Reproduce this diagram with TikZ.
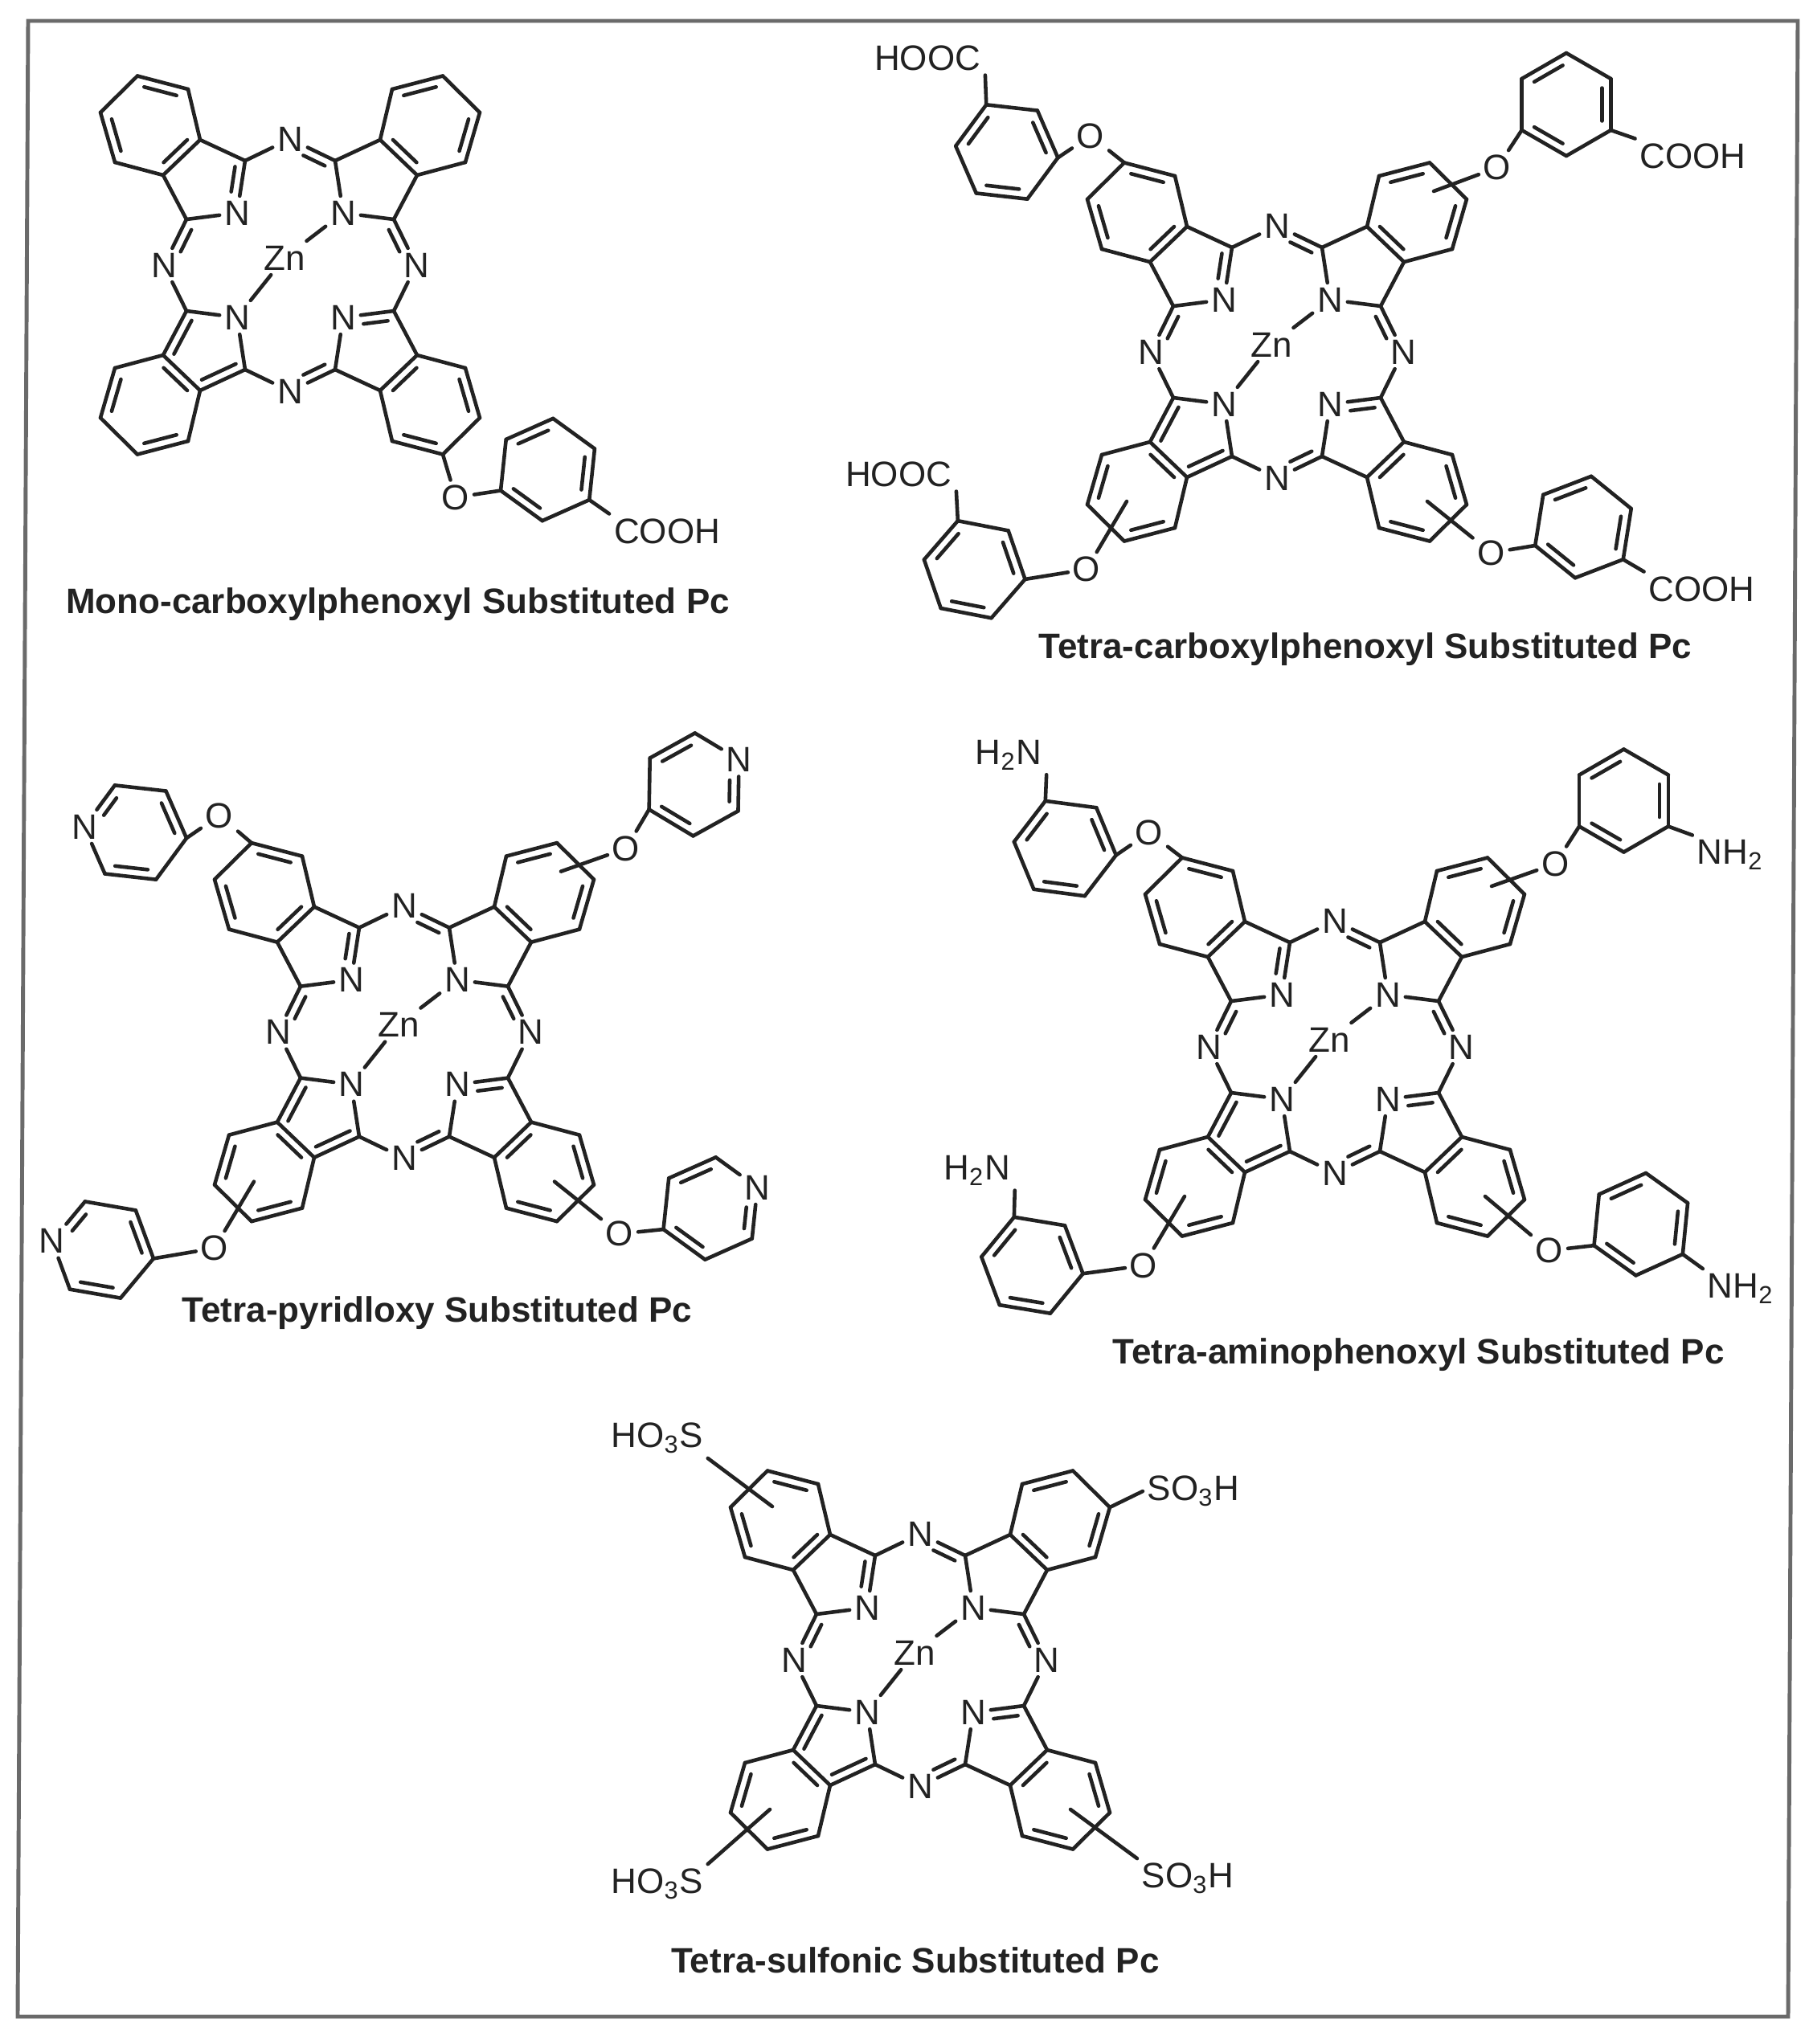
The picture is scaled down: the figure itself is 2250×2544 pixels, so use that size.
\documentclass[tikz,border=0pt]{standalone}
\usepackage{fontspec}
\setmainfont{Liberation Sans}
\usepackage{xcolor}
\usepackage{tikz}
\usetikzlibrary{calc}
\definecolor{inkdark}{HTML}{222222}
\definecolor{framegray}{HTML}{6A6A6A}
\tikzset{
    bond/.style={line width=1.3pt, draw=inkdark, line cap=round},
    atom/.style={font=\fontsize{12.5}{14}\selectfont, text=inkdark, inner sep=1.5pt},
    caption/.style={font=\fontsize{12.5}{14}\selectfont\bfseries, text=inkdark, inner sep=0pt},
    outerframe/.style={line width=1.4pt, draw=framegray, line join=miter}
}
\newcommand{\arom}[5]{\draw[bond] ($(#1)!#4!(#2)!.2!(#3)$) -- ($(#1)!#5!(#2)!.2!(#3)$);}
\newcommand{\dbond}[5]{
    \draw[bond] (#1) -- (#2);
    \draw[bond] ($(#1)!#4!(#2)!3.2pt!#3:(#2)$) -- ($(#1)!#5!(#2)!3.2pt!#3:(#2)$);
}
\newcommand{\benz}[4][0]{
    \coordinate (#2) at (#3);
    \foreach \i in {1,...,6}{
        \pgfmathsetmacro{\ang}{#4+60*\i-60}
        \ifnum\i=#1
            \node[atom] (#2\i) at ($(#2)+(\ang:64)$) {N};
        \else
            \coordinate (#2\i) at ($(#2)+(\ang:64)$);
        \fi
    }
    \foreach \i/\j in {1/2,2/3,3/4,4/5,5/6,6/1} \draw[bond] (#2\i) -- (#2\j);
    \foreach \i/\j in {1/2,3/4,5/6}{
        \def\fa{.1}\def\fb{.9}
        \ifnum\i=#1 \def\fa{.38}\fi
        \ifnum\j=#1 \def\fb{.62}\fi
        \arom{#2\i}{#2\j}{#2}{\fa}{\fb}
    }
}
\newcommand{\pccore}[3]{
    \begin{scope}[shift={(#2,#3)}, name prefix=#1]
        \node[atom] (zn) at (-7,-9) {Zn};
        \node[atom] (nt) at (0,-157) {N};
        \node[atom] (nb) at (0,157) {N};
        \node[atom] (nl) at (-157,0) {N};
        \node[atom] (nr) at (157,0) {N};
        \foreach \qd/\xs/\ys in {tl/-1/-1,tr/1/-1,bl/-1/1,br/1/1}{
            \node[atom] (\qd N) at (\xs*66,\ys*65) {N};
            \coordinate (\qd P) at (\xs*56,\ys*130);
            \coordinate (\qd R) at (\xs*129,\ys*57);
            \coordinate (\qd A) at (\xs*112,\ys*156);
            \coordinate (\qd B) at (\xs*127,\ys*219);
            \coordinate (\qd C) at (\xs*190,\ys*235.5);
            \coordinate (\qd D) at (\xs*236,\ys*190);
            \coordinate (\qd E) at (\xs*218,\ys*128);
            \coordinate (\qd F) at (\xs*158,\ys*112);
            \coordinate (\qd M) at (\xs*173.5,\ys*173.5);
            \foreach \pa/\pb in {A/B,B/C,C/D,D/E,E/F,F/A} \draw[bond] (\qd\pa) -- (\qd\pb);
            \foreach \pa/\pb in {B/C,D/E,F/A}{\arom{\qd\pa}{\qd\pb}{\qd M}{.1}{.9}}
        }
        \coordinate (tlX) at (-184,-191);
        \coordinate (trX) at (195,-200);
        \coordinate (blX) at (-187,186);
        \coordinate (brX) at (187,186);
        \foreach \pa/\pb in {tlA/tlP,tlF/tlR,tlN/tlR,tlP/nt,trA/trP,trF/trR,trP/trN,trN/trR,nr/brR,brA/brP,brF/brR,brN/brP,nb/blP,blN/blP,blN/blR,blR/nl,trN/zn,blN/zn}
            \draw[bond] (\pa) -- (\pb);
        \dbond{tlP}{tlN}{-90}{.14}{.62}
        \dbond{tlR}{nl}{90}{.14}{.62}
        \dbond{nt}{trP}{-90}{.38}{.86}
        \dbond{trR}{nr}{-90}{.14}{.62}
        \dbond{brR}{brN}{90}{.14}{.62}
        \dbond{brP}{nb}{-90}{.14}{.62}
        \dbond{blP}{blA}{-90}{.12}{.88}
        \dbond{blR}{blF}{90}{.12}{.88}
    \end{scope}
}
\begin{document}
\begin{tikzpicture}[x=0.01cm, y=-0.01cm]
            \useasboundingbox (0,0) rectangle (2250,2544);
            \draw[outerframe] (35,26) -- (2237,26) -- (2225,2510) -- (22,2510) -- cycle;

            \pccore{mono}{361}{330}
            \node[atom] (monoO) at (567,619) {O};
            \benz{monoPh}{681.5,584.5}{216}
            \node[atom] (monoAcid) at (830,661) {COOH};
            \draw[bond] (monobrC) -- (monoO);
            \draw[bond] (monoO) -- (monoPh6);
            \draw[bond] (monoPh4) -- (monoAcid.north west);
            \node[caption] (monoCap) at (495,752) {Mono-carboxylphenoxyl Substituted Pc};

            \pccore{tcp}{1589}{438}
            \node[atom] (tcpOa) at (1357,169) {O};
            \node[atom] (tcpOb) at (1863,208.6) {O};
            \node[atom] (tcpOc) at (1352,708.6) {O};
            \node[atom] (tcpOd) at (1855.6,688) {O};
            \benz{tcpTL}{1252.8,189}{306.5}
            \benz{tcpTR}{1949,130}{210}
            \benz{tcpBL}{1212.7,708.7}{311}
            \benz{tcpBR}{1970,656}{219}
            \node[atom] (tcpAcida) at (1154,72) {HOOC};
            \node[atom] (tcpAcidb) at (2106.5,194) {COOH};
            \node[atom] (tcpAcidc) at (1118,590) {HOOC};
            \node[atom] (tcpAcidd) at (2117.5,733) {COOH};
            \draw[bond] (tcptlC) -- (tcpOa);
            \draw[bond] (tcpOa) -- (tcpTL2);
            \draw[bond] (tcpTL6) -- (tcpAcida.south east);
            \draw[bond] (tcptrX) -- (tcpOb);
            \draw[bond] (tcpOb) -- (tcpTR6);
            \draw[bond] (tcpTR4) -- (tcpAcidb.north west);
            \draw[bond] (tcpblX) -- (tcpOc);
            \draw[bond] (tcpOc) -- (tcpBL2);
            \draw[bond] (tcpBL6) -- (tcpAcidc.south east);
            \draw[bond] (tcpbrX) -- (tcpOd);
            \draw[bond] (tcpOd) -- (tcpBR6);
            \draw[bond] (tcpBR4) -- (tcpAcidd.north west);
            \node[caption] (tcpCap) at (1699,808) {Tetra-carboxylphenoxyl Substituted Pc};

            \pccore{pyr}{503}{1284.6}
            \node[atom] (pyrOa) at (273,1015) {O};
            \node[atom] (pyrOb) at (779,1056) {O};
            \node[atom] (pyrOc) at (266.8,1553.5) {O};
            \node[atom] (pyrOd) at (771,1535.6) {O};
            \benz[5]{pyrTL}{168.5,1036}{306.4}
            \benz[3]{pyrTR}{863.6,976.4}{211}
            \benz[5]{pyrBL}{127.9,1555.5}{309.8}
            \benz[3]{pyrBR}{884,1504}{216}
            \draw[bond] (pyrtlC) -- (pyrOa);
            \draw[bond] (pyrOa) -- (pyrTL2);
            \draw[bond] (pyrtrX) -- (pyrOb);
            \draw[bond] (pyrOb) -- (pyrTR6);
            \draw[bond] (pyrblX) -- (pyrOc);
            \draw[bond] (pyrOc) -- (pyrBL2);
            \draw[bond] (pyrbrX) -- (pyrOd);
            \draw[bond] (pyrOd) -- (pyrBR6);
            \node[caption] (pyrCap) at (544,1634) {Tetra-pyridloxy Substituted Pc};

            \pccore{amn}{1661}{1303}
            \node[atom] (amnOa) at (1430,1036) {O};
            \node[atom] (amnOb) at (1935.3,1075) {O};
            \node[atom] (amnOc) at (1423,1575) {O};
            \node[atom] (amnOd) at (1928,1556.4) {O};
            \benz{amnTL}{1325.3,1056}{307.5}
            \benz{amnTR}{2020.5,996.5}{210}
            \benz{amnBL}{1284.4,1574.7}{309.4}
            \benz{amnBR}{2041.8,1523.7}{215.6}
            \node[atom] (amnNHa) at (1255,939.6) {H\textsubscript{2}N};
            \node[atom] (amnNHb) at (2153,1064) {NH\textsubscript{2}};
            \node[atom] (amnNHc) at (1215.6,1457) {H\textsubscript{2}N};
            \node[atom] (amnNHd) at (2166,1603.6) {NH\textsubscript{2}};
            \draw[bond] (amntlC) -- (amnOa);
            \draw[bond] (amnOa) -- (amnTL2);
            \draw[bond] (amnTL6) -- (amnNHa.south east);
            \draw[bond] (amntrX) -- (amnOb);
            \draw[bond] (amnOb) -- (amnTR6);
            \draw[bond] (amnTR4) -- (amnNHb.north west);
            \draw[bond] (amnblX) -- (amnOc);
            \draw[bond] (amnOc) -- (amnBL2);
            \draw[bond] (amnBL6) -- (amnNHc.south east);
            \draw[bond] (amnbrX) -- (amnOd);
            \draw[bond] (amnOd) -- (amnBR6);
            \draw[bond] (amnBR4) -- (amnNHd.north west);
            \node[caption] (amnCap) at (1765,1686) {Tetra-aminophenoxyl Substituted Pc};

            \pccore{sul}{1145}{2066}
            \node[atom] (sulSa) at (817.7,1790) {HO\textsubscript{3}S};
            \node[atom] (sulSb) at (1485,1856) {SO\textsubscript{3}H};
            \node[atom] (sulSc) at (817.7,2345) {HO\textsubscript{3}S};
            \node[atom] (sulSd) at (1478,2338) {SO\textsubscript{3}H};
            \draw[bond] (sultlX) -- (sulSa.south east);
            \draw[bond] (sultrD) -- (sulSb.west);
            \draw[bond] (sulblX) -- (sulSc.north east);
            \draw[bond] (sulbrX) -- (sulSd.north west);
            \node[caption] (sulCap) at (1139,2440) {Tetra-sulfonic Substituted Pc};
        \end{tikzpicture}
\end{document}
